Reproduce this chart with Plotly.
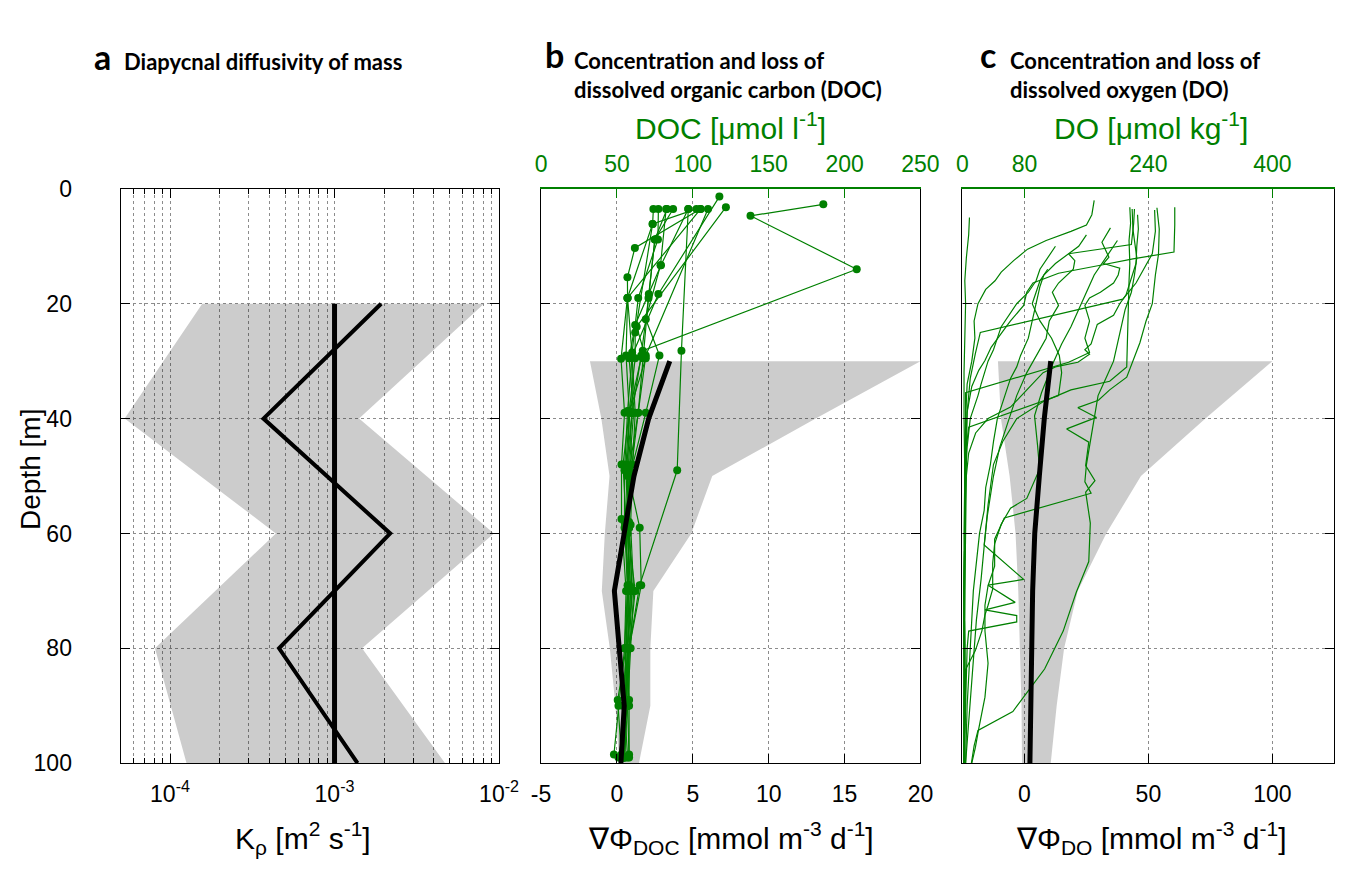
import plotly.graph_objects as go

# page is 1363x888; the browser adds an 8px body margin, so the figure is 16px smaller
PAGE_W, PAGE_H, OFF = 1363, 888, 8
FW, FH = PAGE_W - 2 * OFF, PAGE_H - 2 * OFF
GREEN = "#008000"
FILL = "rgba(0,0,0,0.2)"
GRIDC = "#8c8c8c"
TICKFONT = dict(family="Liberation Sans, Arial, sans-serif", size=23, color="black")
TITLEFONT = dict(family="Liberation Sans, Arial, sans-serif", size=30, color="black")

# ---------------- panel a : diapycnal diffusivity ----------------
depth_a = [20, 40, 60, 80, 100]
kappa_mean = [1.0e-3, 1.0e-3, 1.0e-3, 1.0e-3, 1.0e-3]
kappa_prof = [1.92e-3, 3.7e-4, 2.18e-3, 4.6e-4, 1.38e-3]
kappa_lo = [1.57e-4, 5.3e-5, 4.4e-4, 8.1e-5, 1.26e-4]
kappa_hi = [8.1e-3, 1.41e-3, 9.3e-3, 1.47e-3, 4.7e-3]
kappa_ticks = [1e-4, 1e-3, 1e-2]
kappa_ticktext = ["10<sup>-4</sup>", "10<sup>-3</sup>", "10<sup>-2</sup>"]

# ---------------- panel b : DOC ----------------
depth_flux = [30, 40, 50, 60, 70, 80, 90, 100]
doc_flux_mean = [3.48, 2.09, 1.12, 0.45, -0.17, 0.15, 0.48, 0.26]
doc_flux_lo = [-1.78, -1.03, -0.49, -0.8, -1.0, -0.47, -0.1, 0.15]
doc_flux_hi = [20.0, 13.1, 6.28, 4.9, 2.4, 2.2, 2.2, 1.45]

doc_d01 = [2.7, 4.7, 14, 28.2, 39, 49, 58, 70, 80, 89, 99]
doc_c01 = [186, 138, 208, 67, 58, 57, 58, 60, 57, 56, 55]
doc_d02 = [3.5, 6.1, 19, 29.6, 39, 48, 57.5, 70, 80, 90, 98.5]
doc_c02 = [74, 73.5, 56.9, 52.7, 55, 53, 53, 56, 55, 51, 48]
doc_d03 = [3.5, 10.3, 15.4, 19, 29, 38.7, 49, 59, 69, 80, 89, 99]
doc_c03 = [105, 61.8, 56.9, 57, 60, 57, 55, 55, 58, 56, 50.5, 53]
doc_d04 = [1.35, 18.3, 29, 39, 50, 58.5, 70, 80, 90, 99]
doc_c04 = [117.5, 77.3, 60, 62, 60, 59, 61, 59, 57, 58]
doc_d05 = [3.2, 24, 29.5, 39, 48, 59, 69, 80, 90, 98.5]
doc_c05 = [121.8, 63, 69, 58, 56, 65, 66, 58, 58, 58]
doc_d06 = [3.5, 8.8, 19, 28.5, 39, 49, 58, 70, 80, 90, 99]
doc_c06 = [77.3, 77, 64, 60, 60, 56, 57, 59, 57, 55, 52]
doc_d07 = [3.5, 13.3, 22.7, 29, 39, 49.5, 59, 70, 80, 90, 99]
doc_c07 = [82.4, 78.7, 69, 78, 69, 59, 58, 60, 58, 56, 55]
doc_d08 = [3.5, 8.8, 19, 29, 39, 50, 60, 70, 80, 90, 99]
doc_c08 = [87, 75, 70.8, 66, 60, 57, 57, 59, 57, 56, 54]
doc_d09 = [3.5, 28.2, 49, 69, 80, 90, 99]
doc_c09 = [97, 92.5, 89.7, 65, 58, 57, 55]
doc_d10 = [3.5, 6.1, 25, 29.5, 39, 48, 58, 70, 80, 90, 99]
doc_c10 = [102.4, 73.5, 62, 62, 58, 54, 56, 57, 56, 54, 53]
doc_d11 = [3.5, 29, 39, 49, 59, 70, 80, 90, 99]
doc_c11 = [110, 69, 64, 58, 57, 62, 58, 56, 54]
doc_d12 = [3.5, 19, 29, 38.7, 48, 58, 70, 80, 89, 99]
doc_c12 = [105.2, 57, 56, 58, 60, 55, 57, 55, 58, 51]
doc_d13 = [3.5, 13.3, 23.7, 29.5, 39, 49, 59, 69, 80, 90, 99]
doc_c13 = [97, 79, 62, 58, 61, 58, 58, 57, 56, 55, 57]
doc_d14 = [3.5, 8.8, 18.3, 29.5, 39, 50, 59, 70, 80, 89, 98.5]
doc_c14 = [83, 75, 71, 67, 64, 59, 57, 58, 57, 56, 53]
doc_profiles = [(doc_d01, doc_c01), (doc_d02, doc_c02), (doc_d03, doc_c03), (doc_d04, doc_c04),
                (doc_d05, doc_c05), (doc_d06, doc_c06), (doc_d07, doc_c07), (doc_d08, doc_c08),
                (doc_d09, doc_c09), (doc_d10, doc_c10), (doc_d11, doc_c11), (doc_d12, doc_c12),
                (doc_d13, doc_c13), (doc_d14, doc_c14)]

# ---------------- panel c : DO ----------------
do_flux_mean = [10.6, 8.0, 6.0, 4.15, 3.3, 2.9, 2.2, 2.2]
do_flux_lo = [-10.7, -9.5, -6.0, -3.6, -2.5, -1.7, -1.2, -1.0]
do_flux_hi = [100, 73, 47, 33, 21.5, 16, 13, 10.6]

do_d01 = [5, 8, 12, 16, 20, 26, 32, 40, 50, 60, 70, 80, 90, 100]
do_c01 = [9, 8, 5, 3, 4, 3, 2, 2, 3, 2, 2, 3, 2, 2]
do_d02 = [2, 4.5, 6.3, 7.4, 9, 10.5, 12.5, 14.5, 16, 17.5, 20, 23, 26, 30, 34, 40, 50, 60, 70, 80, 90, 100]
do_c02 = [170, 167, 160, 140, 108, 84, 66, 50, 42, 30, 20, 15, 16, 12, 6, 4, 3, 3, 2, 3, 2, 3]
do_d03 = [4.5, 7, 10, 13, 14.7, 16.5, 18.5, 20, 22, 23.6, 25.5, 27, 28, 28.8, 30.2, 31, 32, 35, 38, 40, 42.5, 46, 50, 60, 70, 80, 90, 100]
do_c03 = [226, 227, 225, 224, 220, 216, 211, 203, 195, 174, 170, 166, 158, 164, 149, 120, 104, 83, 62, 33, 17, 8, 5, 4, 3, 3, 4, 2]
do_d04 = [3.2, 6, 9, 13, 16, 20, 24, 28, 31, 33.5, 35, 37, 40, 44, 48, 55, 62, 68, 75, 82, 88, 94, 100]
do_c04 = [216, 217, 215, 216, 215, 214, 213, 212, 212, 190, 140, 105, 70, 52, 40, 33, 28, 24, 18, 14, 10, 7, 4]
do_d05 = [3.3, 7, 11.4, 15, 20, 23, 26.8, 30, 32.8, 35, 36.8, 38.1, 39.8, 41.8, 44.1, 48.2, 50.8, 52.8, 58.2, 64.9, 70.2, 77, 83.6, 91, 94.3, 97, 100]
do_c05 = [251, 254, 253, 249, 245, 237, 229, 220, 212, 190, 175.5, 149, 173, 134.5, 163, 159, 171, 159, 165, 163, 147, 130, 106, 65, 20, 15, 11.5]
do_d06 = [3.2, 6.3, 11, 12.2, 13.3, 14.7, 16.4, 18, 20.3, 23, 24.8, 26, 27.6, 29.9, 31.6, 34.4, 38.9, 45, 55, 65, 75, 85, 95, 100]
do_c06 = [274, 274, 273, 220, 178, 124, 91, 83, 79, 62, 52, 46, 37, 29, 21, 12, 6, 4, 3, 3, 2, 3, 2, 2]
do_d07 = [6.8, 9.3, 11.9, 13, 13.8, 15, 16.4, 18, 19, 20.3, 23, 26, 28.5, 30.2, 35.5, 40, 50, 60, 70, 80, 90, 100]
do_c07 = [191, 180, 189, 182, 203, 201, 195, 178, 164, 158, 164, 158, 164, 137, 4, 4, 3, 3, 2, 2, 3, 2]
do_d08 = [3.5, 6, 9.7, 11.3, 12.5, 14, 16.4, 18, 20.3, 23, 26, 29, 32, 36, 40, 45, 50, 57, 62, 68, 69, 72, 73.3, 74.3, 75.4, 77, 80, 85, 90, 95, 100]
do_c08 = [222, 221, 218, 137, 145, 143, 124, 116, 124, 112, 108, 95, 83, 70, 60, 48, 40, 32, 28, 79, 33, 68, 29, 70, 70, 8, 6, 5, 4, 3, 3]
do_d09 = [3.7, 7.4, 11.3, 13.6, 16.4, 19.2, 25, 28.7, 33, 39, 50, 60, 70, 80, 90, 100]
do_c09 = [248, 249, 245, 236, 224, 207, 23, 16.6, 10, 6, 4, 3, 3, 2, 2, 2]
do_d10 = [10, 12, 14, 16, 18, 20, 22, 24, 26, 28, 30, 32, 34, 36, 38, 40, 45, 50, 55, 60, 70, 80, 90, 100]
do_c10 = [120, 110, 100, 95, 85, 70, 60, 50, 45, 40, 33, 28, 24, 20, 15, 10, 6, 4, 3, 3, 2, 2, 2, 2]
do_d11 = [14, 16, 18, 20, 23, 26, 29, 32, 36, 41.5, 45, 50, 60, 70, 80, 90, 100]
do_c11 = [110, 100, 95, 90, 100, 115, 125, 128, 124, 8, 5, 4, 3, 2, 2, 3, 2]
do_d12 = [8, 10, 13, 15, 17, 20, 23, 26, 29, 31, 33, 36, 40, 44, 48, 52, 56, 60, 65, 70, 75, 80, 85, 90, 95, 100]
do_c12 = [160, 150, 120, 105, 100, 95, 90, 85, 75, 70, 62, 55, 45, 40, 36, 30, 28, 22, 18, 14, 12, 10, 8, 6, 5, 4]
do_d13 = [9, 12, 15, 18, 21, 24, 27, 30, 35.5, 39.5, 44.8, 48.8, 53.9, 55.6, 58.4, 61.8, 65.2, 69.7, 72.5, 74.2, 77, 80.4, 83.7, 90, 100]
do_c13 = [200, 185, 170, 160, 150, 140, 128, 118, 102, 93, 97, 99.5, 83, 62, 50, 41.5, 39, 39, 33, 29, 25, 16.6, 4, 3, 2]
do_d14 = [3.5, 7, 12, 15, 18, 21, 24, 27, 30, 33, 36, 40, 44, 48, 51, 53, 57.3, 61, 65.7, 69.1, 72.5, 77, 82.6, 88.5, 94, 97.3, 100]
do_c14 = [219, 220, 225, 222, 218, 210, 205, 200, 195, 185, 175, 170, 165, 160, 158, 166, 54, 41.5, 41.5, 33, 29, 29, 33, 29, 21, 16.6, 12]
do_profiles = [(do_d01, do_c01), (do_d02, do_c02), (do_d03, do_c03), (do_d04, do_c04),
               (do_d05, do_c05), (do_d06, do_c06), (do_d07, do_c07), (do_d08, do_c08),
               (do_d09, do_c09), (do_d10, do_c10), (do_d11, do_c11), (do_d12, do_c12),
               (do_d13, do_c13), (do_d14, do_c14)]

depth_ticks = [0, 20, 40, 60, 80, 100]
docflux_ticks = [-5, 0, 5, 10, 15, 20]
doc_ticks = [0, 50, 100, 150, 200, 250]
doflux_ticks = [0, 50, 100]
do_ticks = [0, 80, 240, 400]


def fx(X):
    return min(max((X - OFF) / FW, 0.0), 1.0)


def fy(Y):
    return 1 - (Y - OFF) / FH


fig = go.Figure()

# panel a
fig.add_trace(go.Scatter(x=kappa_lo + kappa_hi[::-1], y=depth_a + depth_a[::-1], fill="toself",
                         fillcolor=FILL, line=dict(width=0), mode="lines", xaxis="x", yaxis="y",
                         hoverinfo="skip"))
fig.add_trace(go.Scatter(x=kappa_mean, y=depth_a, mode="lines", line=dict(color="black", width=5),
                         xaxis="x", yaxis="y"))
fig.add_trace(go.Scatter(x=kappa_prof, y=depth_a, mode="lines", line=dict(color="black", width=4),
                         xaxis="x", yaxis="y"))

# panel b
fig.add_trace(go.Scatter(x=doc_flux_lo + doc_flux_hi[::-1], y=depth_flux + depth_flux[::-1], fill="toself",
                         fillcolor=FILL, line=dict(width=0), mode="lines", xaxis="x2", yaxis="y2"))
for d, c in doc_profiles:
    fig.add_trace(go.Scatter(x=c, y=d, mode="lines+markers", line=dict(color=GREEN, width=1.2),
                             marker=dict(color=GREEN, size=8), xaxis="x4", yaxis="y2"))
fig.add_trace(go.Scatter(x=doc_flux_mean, y=depth_flux, mode="lines", line=dict(color="black", width=5),
                         xaxis="x6", yaxis="y2"))

# panel c
fig.add_trace(go.Scatter(x=do_flux_lo + do_flux_hi[::-1], y=depth_flux + depth_flux[::-1], fill="toself",
                         fillcolor=FILL, line=dict(width=0), mode="lines", xaxis="x3", yaxis="y3"))
for d, c in do_profiles:
    fig.add_trace(go.Scatter(x=c, y=d, mode="lines", line=dict(color=GREEN, width=1.2),
                             xaxis="x5", yaxis="y3"))
fig.add_trace(go.Scatter(x=do_flux_mean, y=depth_flux, mode="lines", line=dict(color="black", width=5),
                         xaxis="x7", yaxis="y3"))

xa = [fx(113), fx(500)]
xb = [fx(543), fx(931)]
xc = [fx(974), 0.9995]
ydom = [fy(773), fy(181)]

common_x = dict(ticks="inside", ticklen=9, tickwidth=1, tickcolor="black", showline=True,
                linecolor="black", linewidth=1.2, zeroline=False, tickfont=TICKFONT,
                ticklabelstandoff=10, showgrid=True, gridcolor=GRIDC, griddash="dot", gridwidth=1)
common_y = dict(range=[100, 0], tickvals=depth_ticks, ticks="inside", ticklen=9, tickwidth=1,
                tickcolor="black", showline=True, linecolor="black", linewidth=1.2, mirror="ticks",
                showgrid=True, gridcolor=GRIDC, griddash="dot", gridwidth=1, zeroline=False,
                tickfont=TICKFONT)

minor_vals = [k * 10.0 ** e for e in (-5, -4, -3) for k in range(2, 10) if k * 10.0 ** e > 10 ** -4.3]

top_common = dict(side="top", ticks="inside", ticklen=9, tickcolor=GREEN, showline=True,
                  linecolor=GREEN, linewidth=1.5, showgrid=False, zeroline=False,
                  tickfont=dict(family=TICKFONT["family"], size=23, color=GREEN), ticklabelstandoff=6)

fig.update_layout(
    width=FW, height=FH, margin=dict(l=0, r=0, t=0, b=0), showlegend=False,
    plot_bgcolor="white", paper_bgcolor="white",
    xaxis=dict(domain=xa, anchor="y", type="log", range=[-4.3, -2], tickvals=kappa_ticks,
               ticktext=kappa_ticktext, mirror="ticks",
               minor=dict(tickvals=minor_vals, ticks="inside", ticklen=5, tickcolor="black",
                          showgrid=True, gridcolor=GRIDC, griddash="dot", gridwidth=1),
               **common_x),
    yaxis=dict(domain=ydom, anchor="x", ticklabelstandoff=43, **common_y),
    xaxis2=dict(domain=xb, anchor="y2", range=[-5, 20], tickvals=docflux_ticks,
                ticktext=[str(v) for v in docflux_ticks], **common_x),
    yaxis2=dict(domain=ydom, anchor="x2", showticklabels=False, **common_y),
    xaxis4=dict(overlaying="x2", anchor="y2", range=[0, 250], tickvals=doc_ticks,
                ticktext=[str(v) for v in doc_ticks], **top_common),
    xaxis6=dict(overlaying="x2", anchor="y2", range=[-5, 20], visible=False),
    xaxis3=dict(domain=xc, anchor="y3", range=[-25, 125], tickvals=doflux_ticks,
                ticktext=[str(v) for v in doflux_ticks], **common_x),
    yaxis3=dict(domain=ydom, anchor="x3", showticklabels=False, **common_y),
    xaxis5=dict(overlaying="x3", anchor="y3", range=[0, 480], tickvals=do_ticks,
                ticktext=[str(v) for v in do_ticks], **top_common),
    xaxis7=dict(overlaying="x3", anchor="y3", range=[-25, 125], visible=False),
)


def ann(text, x, y, font, xanchor="center", yanchor="middle", angle=0):
    fig.add_annotation(text=text, x=fx(x), y=fy(y), xref="paper", yref="paper", showarrow=False,
                       font=font, xanchor=xanchor, yanchor=yanchor, textangle=angle)


BOLD_BIG = dict(family="Lato, Noto Sans, sans-serif", size=34, color="black", weight="bold")
BOLD = dict(family="Lato, Noto Sans, sans-serif", size=22, color="black", weight="bold")

ann("a", 94, 45, BOLD_BIG)
ann("Diapycnal diffusivity of mass", 114, 50, BOLD, xanchor="left")
ann("b", 557, 43, BOLD_BIG)
ann("Concentration and loss of", 575, 49, BOLD, xanchor="left")
ann("dissolved organic carbon (DOC)", 575, 79, BOLD, xanchor="left")
ann("c", 1000, 43, BOLD_BIG)
ann("Concentration and loss of", 1021, 49, BOLD, xanchor="left")
ann("dissolved oxygen (DO)", 1021, 79, BOLD, xanchor="left")

ann("Depth [m]", 21, 470, dict(TITLEFONT, size=28), angle=-90)
ann("K<sub>ρ</sub> [m<sup>2</sup> s<sup>-1</sup>]", 300, 850, TITLEFONT)
ann("∇Φ<sub>DOC</sub> [mmol m<sup>-3</sup> d<sup>-1</sup>]", 737, 850, TITLEFONT)
ann("∇Φ<sub>DO</sub> [mmol m<sup>-3</sup> d<sup>-1</sup>]", 1167, 850, TITLEFONT)
ann("DOC [μmol l<sup>-1</sup>]", 737, 116, dict(TITLEFONT, color=GREEN))
ann("DO [μmol kg<sup>-1</sup>]", 1167, 116, dict(TITLEFONT, color=GREEN))

fig.write_html("out.html", config={"displayModeBar": False})
